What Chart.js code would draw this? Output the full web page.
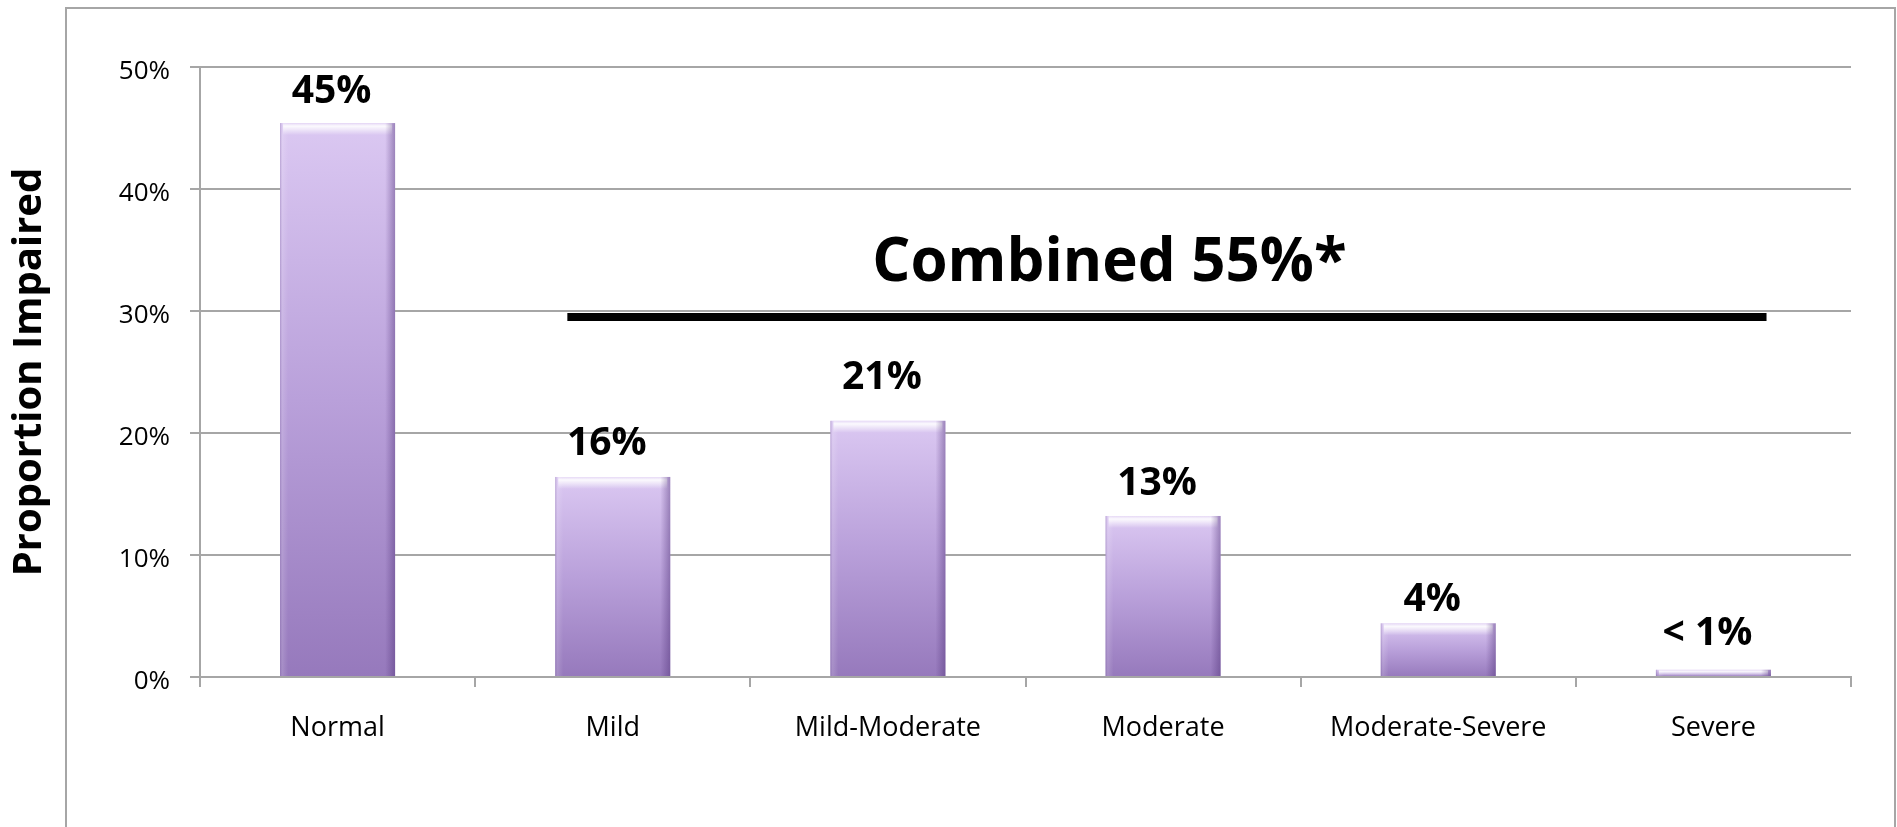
<!DOCTYPE html>
<html>
<head>
<meta charset="utf-8">
<script src="https://cdn.jsdelivr.net/npm/chart.js@4.4.1/dist/chart.umd.min.js"></script>
<style>
  html, body { margin: 0; padding: 0; background: #ffffff; overflow: hidden; }
  #wrap { width: 1897px; height: 827px; position: relative; }
</style>
</head>
<body>
<div id="wrap"><canvas id="chart" width="1897" height="827"></canvas></div>
<script>
// Hearing categories and the share of people in each
const categories = ['Normal', 'Mild', 'Mild-Moderate', 'Moderate', 'Moderate-Severe', 'Severe'];
const proportions = [45.4, 16.4, 21.0, 13.2, 4.4, 0.6];
const yTickValues = [0, 10, 20, 30, 40, 50];
const axisTitle = 'Proportion Impaired';
const combinedText = 'Combined 55%*';

// Styling / placement for the value labels and the "combined" bracket
const labelLift = [20, 22, 32, 21, 12, 25];
const bracket = { from: 0.835, to: 5.193, level: 29.5, textAt: 2.805, textLevel: 33.9 };

const GRID = '#a6a6a6';
const FONT = '"Open Sans", "DejaVu Sans", sans-serif';

function valueText(v) {
  return v < 1 ? '< 1%' : Math.round(v) + '%';
}

// Outer frame around the chart
const framePlugin = {
  id: 'frame',
  beforeDraw(chart) {
    const ctx = chart.ctx;
    ctx.save();
    ctx.fillStyle = '#ffffff';
    ctx.fillRect(0, 0, chart.width, chart.height);
    ctx.strokeStyle = GRID;
    ctx.lineWidth = 2;
    ctx.strokeRect(66, 8, 1829, 900);
    ctx.restore();
  }
};

// Bevel shading on bars, value labels and the combined bracket
const decorPlugin = {
  id: 'decor',
  afterDatasetsDraw(chart) {
    const ctx = chart.ctx;
    const meta = chart.getDatasetMeta(0);
    const xs = chart.scales.x, ys = chart.scales.y;
    ctx.save();
    meta.data.forEach((bar, i) => {
      const { x, y, base, width } = bar.getProps(['x', 'y', 'base', 'width'], true);
      if (![x, y, base, width].every(Number.isFinite)) return;
      const l = x - width / 2, r = x + width / 2, h = base - y;
      // top highlight
      const th = Math.min(12, h);
      let g = ctx.createLinearGradient(0, y, 0, y + th);
      g.addColorStop(0, 'rgba(255,255,255,0.3)');
      g.addColorStop(0.25, 'rgba(255,255,255,0.9)');
      g.addColorStop(1, 'rgba(255,255,255,0)');
      ctx.fillStyle = g;
      ctx.fillRect(l + 3, y, width - 6, th);
      // left edge
      g = ctx.createLinearGradient(l, 0, l + 8, 0);
      g.addColorStop(0, 'rgba(110,80,150,0.35)');
      g.addColorStop(0.3, 'rgba(255,255,255,0.15)');
      g.addColorStop(1, 'rgba(255,255,255,0)');
      ctx.fillStyle = g;
      ctx.fillRect(l, y, 8, h);
      // right edge
      g = ctx.createLinearGradient(r - 10, 0, r, 0);
      g.addColorStop(0, 'rgba(80,50,120,0)');
      g.addColorStop(1, 'rgba(80,50,120,0.45)');
      ctx.fillStyle = g;
      ctx.fillRect(r - 10, y, 10, h);
      // value label
      ctx.fillStyle = '#000000';
      ctx.font = 'bold 39px ' + FONT;
      ctx.textAlign = 'center';
      ctx.textBaseline = 'alphabetic';
      ctx.fillText(valueText(proportions[i]), x - 6, y - labelLift[i]);
    });
    // combined bracket line
    ctx.strokeStyle = '#000000';
    ctx.lineWidth = 8;
    ctx.lineCap = 'butt';
    ctx.beginPath();
    ctx.moveTo(xs.getPixelForValue(bracket.from), ys.getPixelForValue(bracket.level));
    ctx.lineTo(xs.getPixelForValue(bracket.to), ys.getPixelForValue(bracket.level));
    ctx.stroke();
    ctx.fillStyle = '#000000';
    ctx.font = 'bold 60px ' + FONT;
    ctx.textAlign = 'center';
    ctx.textBaseline = 'middle';
    ctx.fillText(combinedText, xs.getPixelForValue(bracket.textAt), ys.getPixelForValue(bracket.textLevel));
    ctx.restore();
  }
};

// Vertical lavender gradient spanning each bar from its top to the baseline
function barFill(context) {
  const chart = context.chart;
  const ys = chart.scales && chart.scales.y;
  const fallback = '#bba4dc';
  if (!ys || typeof context.raw !== 'number') return fallback;
  const top = ys.getPixelForValue(context.raw);
  const bottom = ys.getPixelForValue(0);
  if (!Number.isFinite(top) || !Number.isFinite(bottom) || bottom <= top) return fallback;
  const g = chart.ctx.createLinearGradient(0, top, 0, bottom);
  g.addColorStop(0, '#dbc8f2');
  g.addColorStop(0.5, '#b9a0da');
  g.addColorStop(1, '#9679bc');
  return g;
}

const chart = new Chart(document.getElementById('chart'), {
  type: 'bar',
  data: {
    labels: categories,
    datasets: [{
      data: proportions,
      backgroundColor: barFill,
      borderWidth: 0,
      categoryPercentage: 1,
      barPercentage: 0.418
    }]
  },
  options: {
    responsive: false,
    animation: false,
    devicePixelRatio: 1,
    layout: { padding: { left: 0, right: 46, top: 67, bottom: 0 } },
    plugins: {
      legend: { display: false },
      tooltip: { enabled: false },
      title: { display: false }
    },
    scales: {
      x: {
        grid: {
          display: true,
          offset: true,
          drawOnChartArea: false,
          drawTicks: true,
          tickLength: 10,
          color: GRID,
          lineWidth: 2
        },
        border: { display: true, color: GRID, width: 2 },
        ticks: {
          color: '#000000',
          font: { family: FONT, size: 27 },
          padding: 25,
          maxRotation: 0,
          autoSkip: false
        },
        afterFit(scale) { scale.height = 150; }
      },
      y: {
        min: 0,
        max: 50,
        afterBuildTicks(scale) { scale.ticks = yTickValues.map(v => ({ value: v })); },
        grid: {
          color: GRID,
          lineWidth: 2,
          drawTicks: true,
          tickLength: 10
        },
        border: { display: true, color: GRID, width: 2 },
        ticks: {
          color: '#000000',
          font: { family: FONT, size: 26 },
          padding: 20,
          labelOffset: 5,
          callback: v => v + '%'
        },
        title: {
          display: true,
          text: axisTitle,
          color: '#000000',
          font: { family: FONT, size: 40, weight: 'bold' },
          padding: { top: 6, bottom: 0 }
        },
        afterFit(scale) { scale.width = 200; }
      }
    }
  },
  plugins: [framePlugin, decorPlugin]
});
chart.update();
</script>
</body>
</html>
